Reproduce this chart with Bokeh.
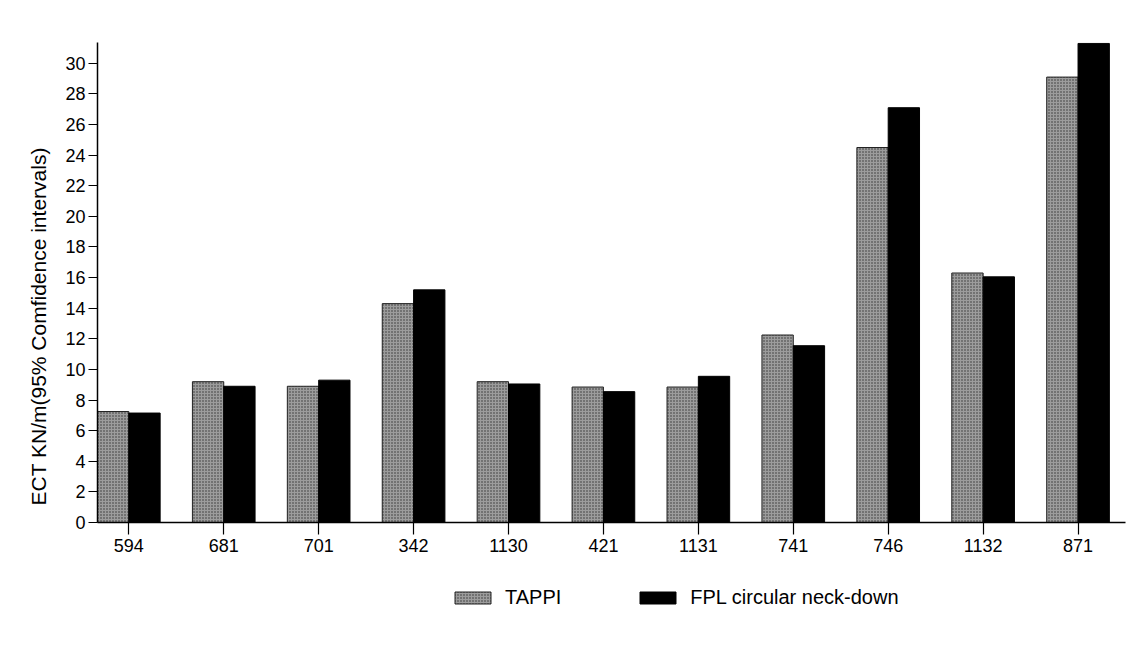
import math
from bokeh.plotting import figure
from bokeh.layouts import column
from bokeh.models import (ColumnDataSource, FixedTicker, Title, Legend, LegendItem)
from bokeh.transform import dodge
from bokeh.embed import file_html
from bokeh.resources import INLINE

categories = ["594", "681", "701", "342", "1130", "421", "1131", "741", "746", "1132", "871"]
tappi = [7.25, 9.2, 8.9, 14.3, 9.2, 8.85, 8.85, 12.25, 24.5, 16.3, 29.1]
fpl = [7.15, 8.9, 9.3, 15.2, 9.05, 8.55, 9.55, 11.55, 27.1, 16.05, 31.3]
y_ticks = list(range(0, 31, 2))
series_names = ["TAPPI", "FPL circular neck-down"]

FONT = "Liberation Sans"
TAPPI_STYLE = dict(fill_color="#9c9c9c", hatch_pattern="dot", hatch_color="#303030",
                   hatch_scale=3, hatch_weight=1, line_color="#222222", line_width=1)
FPL_STYLE = dict(fill_color="black", line_color="black")

idx = list(range(len(categories)))
src = ColumnDataSource(dict(x=idx, tappi=tappi, fpl=fpl, cat=categories))

p = figure(width=1126, height=560, output_backend="svg", toolbar_location=None,
           x_range=(-0.33, 10.5), y_range=(0, 31.36),
           min_border_left=97, min_border_right=1, min_border_top=42, min_border_bottom=38)
p.outline_line_color = None
p.xgrid.grid_line_color = None
p.ygrid.grid_line_color = None

bw = 0.33
r1 = p.vbar(x=dodge("x", -bw / 2), top="tappi", width=bw, source=src, **TAPPI_STYLE)
r2 = p.vbar(x=dodge("x", bw / 2), top="fpl", width=bw, source=src, **FPL_STYLE)

p.xaxis.ticker = FixedTicker(ticks=idx)
p.xaxis.major_label_overrides = {i: c for i, c in zip(idx, categories)}
p.yaxis.ticker = FixedTicker(ticks=y_ticks)
for ax in (p.xaxis[0], p.yaxis[0]):
    ax.minor_tick_line_color = None
    ax.axis_line_color = "black"
    ax.axis_line_width = 1.5
    ax.major_tick_line_color = "black"
    ax.major_tick_line_width = 1.2
    ax.major_tick_in = 0
    ax.major_label_text_font = FONT
    ax.major_label_text_font_size = "18px"
    ax.major_label_text_color = "black"
p.xaxis.major_tick_out = 12
p.xaxis.major_label_standoff = 4
p.yaxis.major_tick_out = 9
p.yaxis.major_label_standoff = 3

ylab = Title(text="ECT KN/m(95% Comfidence intervals)", align="left", offset=17,
             standoff=25, text_font=FONT, text_font_size="21px", text_font_style="normal",
             text_color="black")
p.add_layout(ylab, "left")

# legend strip
lg = figure(width=1126, height=88, output_backend="svg", toolbar_location=None,
            x_range=(0, 1), y_range=(0, 1), min_border_left=97, min_border_right=1,
            min_border_top=0, min_border_bottom=0)
lg.axis.visible = False
lg.grid.visible = False
lg.outline_line_color = None
dummy = ColumnDataSource(dict(x=[-10.0], top=[0.0]))
d1 = lg.vbar(x="x", top="top", width=0.1, source=dummy, **TAPPI_STYLE)
d2 = lg.vbar(x="x", top="top", width=0.1, source=dummy, **FPL_STYLE)
legend = Legend(items=[LegendItem(label=series_names[0], renderers=[d1]),
                       LegendItem(label=series_names[1], renderers=[d2])],
                orientation="horizontal", location=(353, 39),
                glyph_width=45, glyph_height=15, label_standoff=10, spacing=74,
                padding=0, margin=0, border_line_color=None, background_fill_alpha=0,
                label_text_font=FONT, label_text_font_size="20px", label_height=15,
                label_text_color="black")
lg.add_layout(legend, "center")

layout = column(p, lg, spacing=0)
open("out.html", "w").write(file_html(layout, INLINE))
